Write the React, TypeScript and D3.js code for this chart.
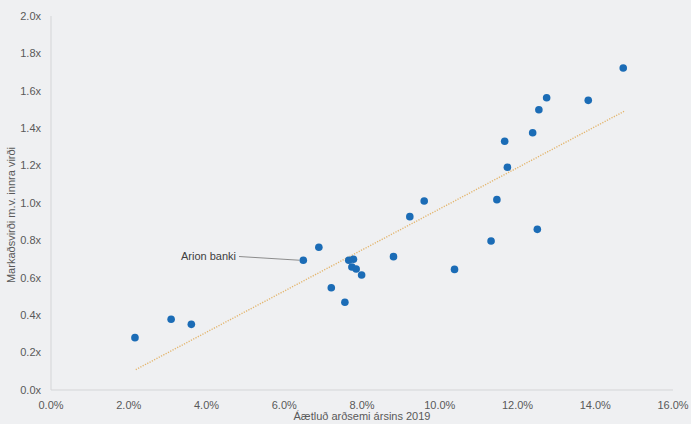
import React from "react";
import * as d3 from "d3";

const roe = [2.16, 3.09, 3.61, 6.49, 6.89, 7.21, 7.56, 7.66, 7.74, 7.78, 7.85, 7.99, 8.81, 9.23, 9.6, 10.38, 11.32, 11.47, 11.67, 11.74, 12.39, 12.51, 12.55, 12.75, 13.82, 14.72];
const pb = [0.28, 0.378, 0.351, 0.694, 0.763, 0.547, 0.469, 0.694, 0.658, 0.699, 0.647, 0.615, 0.713, 0.927, 1.011, 0.645, 0.797, 1.018, 1.33, 1.191, 1.376, 0.859, 1.499, 1.563, 1.549, 1.722];
const trendX = [2.18, 14.74];
const trendY = [0.109, 1.49];
const xTicks = [0, 2, 4, 6, 8, 10, 12, 14, 16];
const yTicks = [0, 0.2, 0.4, 0.6, 0.8, 1.0, 1.2, 1.4, 1.6, 1.8, 2.0];
const annotation = { label: "Arion banki", index: 3 };
const xTitle = "Áætluð arðsemi ársins 2019";
const yTitle = "Markaðsvirði m.v. innra virði";

export default function App() {
  const W = 691, H = 424;
  const x = d3.scaleLinear().domain([0, 16]).range([51, 673]);
  const y = d3.scaleLinear().domain([0, 2]).range([390, 16]);
  const font = "'Liberation Sans', Arial, sans-serif";
  const txt = "#595959";
  const line = d3.line<number>().x((_, i) => x(trendX[i])).y((d) => y(d));
  const ai = annotation.index;
  return (
    <div style={{ position: "fixed", left: 0, top: 0 }}>
      <svg width={W} height={H} style={{ display: "block" }} fontFamily={font}>
        <rect width={W} height={H} fill="#eff0f2" />
        <line x1={x(0)} x2={x(0)} y1={y(2)} y2={y(0)} stroke="#d4d5d7" strokeWidth={1} />
        <line x1={x(0)} x2={x(16)} y1={y(0)} y2={y(0)} stroke="#d4d5d7" strokeWidth={1} />
        {yTicks.map((t) => (
          <text key={"y" + t} x={x(0) - 10} y={y(t)} dy="0.35em" textAnchor="end" fontSize={11} fill={txt}>
            {t.toFixed(1) + "x"}
          </text>
        ))}
        {xTicks.map((t) => (
          <text key={"x" + t} x={x(t)} y={y(0) + 19} textAnchor="middle" fontSize={11} fill={txt}>
            {t.toFixed(1) + "%"}
          </text>
        ))}
        <text x={362} y={420} textAnchor="middle" fontSize={11} fill={txt}>{xTitle}</text>
        <text transform={`translate(15,${215}) rotate(-90)`} textAnchor="middle" fontSize={11} fill={txt}>{yTitle}</text>
        <path d={line(trendY) || ""} fill="none" stroke="#e3b56d" strokeWidth={1.4} strokeDasharray="1.2 1.4" />
        {roe.map((v, i) => (
          <circle key={i} cx={x(v)} cy={y(pb[i])} r={3.8} fill="#1b6cb6" />
        ))}
        <line x1={239} y1={256.5} x2={x(roe[ai]) - 4} y2={y(pb[ai])} stroke="#8c8c8c" strokeWidth={1} />
        <text x={236} y={256.5} dy="0.35em" textAnchor="end" fontSize={11} fill="#404040">{annotation.label}</text>
      </svg>
    </div>
  );
}
